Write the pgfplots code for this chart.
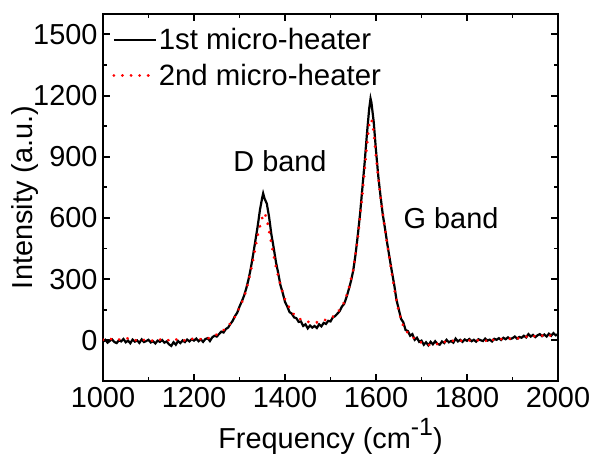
\documentclass[border=0pt]{standalone}
\usepackage{fontspec}
\setmainfont{Liberation Sans}
\usepackage{pgfplots}
\pgfplotsset{compat=1.18}
\begin{document}
\begin{tikzpicture}
\begin{axis}[
  scale only axis, width=455bp, height=367bp,
  xmin=1000, xmax=2000, ymin=-200, ymax=1600,
  xtick={1000,1200,...,2000}, ytick={0,300,...,1500},
  minor x tick num=1, minor y tick num=1,
  tick align=inside, tick pos=both,
  major tick length=7bp, minor tick length=4.5bp,
  every tick/.style={line width=1.9bp, black},
  axis line style={line width=2bp},
  font=\fontsize{29}{34}\selectfont,
  /pgf/number format/assume math mode=true,
  /pgf/number format/1000 sep={},
  xticklabel style={yshift=-3bp},
  yticklabel style={xshift=-2bp},
  xlabel={Frequency (cm\raisebox{0.42em}{\fontsize{25}{30}\selectfont -1})},
  ylabel={Intensity (a.u.)},
  xlabel style={at={(axis description cs:0.5,0)}, anchor=base, yshift=-67bp},
  ylabel style={at={(axis description cs:0,0.5)}, anchor=base, yshift=70bp},
  legend style={draw=none, fill=none, at={(0.02,0.965)}, anchor=north west,
    font=\fontsize{29.5}{34}\selectfont, row sep=10bp, inner sep=0bp,
    nodes={inner sep=1.5bp}},
  legend cell align=left,
  legend image code/.code={\draw[#1] (0bp,0bp) -- (42bp,0bp);},
]
\addplot[black, line width=2.2bp] coordinates {
(1000,-8)(1005,2)(1010,-12)(1015,-3)(1020,4)(1025,-9)(1030,-14)(1035,0)(1040,-6)(1045,6)
(1050,-10)(1055,-2)(1060,-15)(1065,3)(1070,-7)(1075,-1)(1080,-13)(1085,4)(1090,-9)(1095,-4)
(1100,2)(1105,-11)(1110,-5)(1115,-16)(1120,-2)(1125,-8)(1130,1)(1135,-12)(1140,-6)(1145,-20)
(1150,-28)(1155,-10)(1160,-22)(1165,-4)(1170,-14)(1175,-1)(1180,-9)(1185,3)(1190,-6)(1195,5)
(1200,-2)(1205,8)(1210,-5)(1215,4)(1220,-8)(1225,6)(1230,10)(1235,-4)(1240,14)(1245,22)
(1250,18)(1255,30)(1260,42)(1265,38)(1270,55)(1275,62)(1280,80)(1285,95)(1290,118)(1295,135)
(1300,165)(1305,190)(1310,218)(1315,255)(1320,300)(1325,355)(1330,420)(1335,490)(1340,560)(1345,640)
(1350,700)(1352,720)(1355,695)(1360,670)(1365,605)(1370,520)(1375,455)(1380,385)(1385,330)(1390,270)
(1395,232)(1400,188)(1405,165)(1410,138)(1415,130)(1420,112)(1425,108)(1430,90)(1435,92)(1440,70)
(1445,78)(1450,58)(1455,72)(1460,62)(1465,70)(1470,60)(1475,78)(1480,68)(1485,85)(1490,80)
(1495,95)(1500,92)(1505,112)(1510,118)(1515,130)(1520,142)(1525,165)(1530,178)(1535,210)(1540,248)
(1545,290)(1550,342)(1555,420)(1560,515)(1565,620)(1570,745)(1575,870)(1580,1010)(1585,1135)(1588,1185)
(1590,1165)(1595,1070)(1600,930)(1605,805)(1610,705)(1615,615)(1620,545)(1625,470)(1630,402)(1635,335)
(1640,272)(1645,198)(1650,152)(1655,105)(1660,88)(1665,50)(1670,45)(1675,22)(1680,30)(1685,2)
(1690,12)(1695,-8)(1700,-2)(1705,-22)(1710,-10)(1715,-25)(1720,-8)(1725,-20)(1730,-5)(1735,-18)
(1740,-22)(1745,-6)(1750,-14)(1755,2)(1760,-10)(1765,-4)(1770,-12)(1775,8)(1780,-6)(1785,2)
(1790,-8)(1795,4)(1800,-3)(1805,6)(1810,-5)(1815,2)(1820,-7)(1825,5)(1830,0)(1835,-4)
(1840,8)(1845,-2)(1850,3)(1855,-6)(1860,7)(1865,2)(1870,10)(1875,1)(1880,12)(1885,5)
(1890,14)(1895,6)(1900,10)(1905,18)(1910,8)(1915,16)(1920,12)(1925,22)(1930,14)(1935,30)
(1940,18)(1945,26)(1950,15)(1955,24)(1960,30)(1965,20)(1970,28)(1975,18)(1980,32)(1985,22)
(1990,35)(1995,24)(2000,30)
};
\addlegendentry{1st micro-heater}
\addplot[red, line width=3bp, line cap=round, dash pattern=on 0.1bp off 8.5bp] coordinates {
(1000,2)(1010,-3)(1020,8)(1030,0)(1040,6)(1050,12)(1060,4)(1070,-2)(1080,7)(1090,1)
(1100,5)(1110,-4)(1120,6)(1130,0)(1140,4)(1150,-6)(1160,3)(1170,8)(1180,-2)(1190,10)
(1200,4)(1210,0)(1220,12)(1230,8)(1240,18)(1250,28)(1260,42)(1270,58)(1280,82)(1290,115)
(1300,160)(1310,210)(1320,290)(1330,395)(1340,515)(1350,600)(1355,625)(1360,595)(1370,475)(1380,360)
(1390,270)(1400,200)(1410,158)(1420,125)(1430,108)(1440,95)(1450,90)(1460,92)(1470,88)(1480,96)
(1490,100)(1500,108)(1510,122)(1520,150)(1530,185)(1540,250)(1550,345)(1560,500)(1570,715)(1580,955)
(1585,1060)(1590,1085)(1595,1020)(1600,900)(1610,700)(1620,540)(1630,395)(1640,255)(1650,140)(1660,70)
(1670,35)(1680,15)(1690,2)(1700,-12)(1710,-18)(1720,-25)(1730,-15)(1740,-22)(1750,-8)(1760,-12)
(1770,-2)(1780,-8)(1790,0)(1800,-4)(1810,2)(1820,-3)(1830,4)(1840,0)(1850,-12)(1860,6)
(1870,2)(1880,8)(1890,5)(1900,12)(1910,8)(1920,14)(1930,18)(1940,10)(1950,22)(1960,16)
(1970,28)(1980,20)(1990,30)(2000,25)
};
\addlegendentry{2nd micro-heater}
\node[font=\fontsize{29}{34}\selectfont] at (axis cs:1389,880) {D band};
\node[font=\fontsize{29}{34}\selectfont] at (axis cs:1765,600) {G band};
\end{axis}
\pgfresetboundingbox
\useasboundingbox (current axis.south west) ++(-103bp,-73bp) rectangle ++(591bp,454bp);
\end{tikzpicture}
\end{document}
